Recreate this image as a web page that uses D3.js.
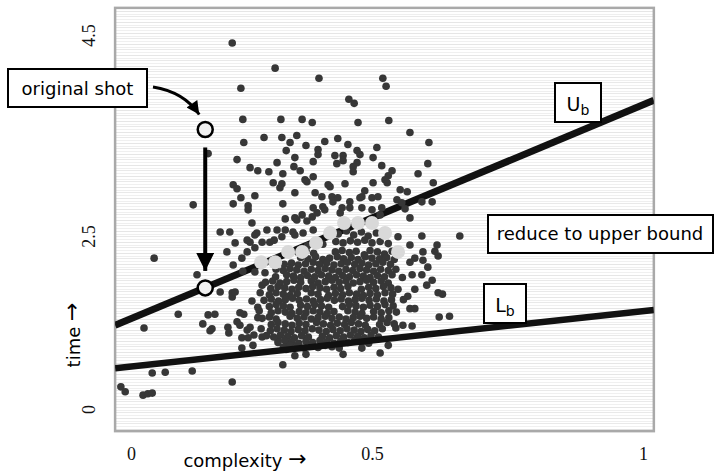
<!DOCTYPE html>
<html>
<head>
<meta charset="utf-8">
<script src="https://cdn.jsdelivr.net/npm/d3@7"></script>
<style>
body { margin: 0; background: #fff; }
svg { display: block; }
</style>
</head>
<body>
<script>
// tick labels
var xTicks = [0, 0.5, 1];
var yTicks = [0, 2.5, 4.5];

// plotted area in data units (a bit past the ticks)
var frameX = [-0.033, 1.02];
var frameY = [-0.32, 4.77];

// scattered shots around the main cloud [complexity, time]
var outerShots = [
    [0.210,4.42],[0.299,4.17],[0.390,4.07],[0.228,3.97],[0.520,4.07],[0.526,3.99],[0.452,3.86],[0.463,3.82],
    [0.232,3.66],[0.311,3.66],[0.355,3.66],[0.376,3.63],[0.471,3.63],[0.531,3.65],[0.570,3.53],[0.276,3.48],
    [0.313,3.48],[0.344,3.50],[0.234,3.43],[0.330,3.43],[0.363,3.40],[0.402,3.44],[0.429,3.47],[0.450,3.41],
    [0.509,3.38],[0.605,3.43],[0.322,3.35],[0.388,3.36],[0.388,3.31],[0.469,3.35],[0.475,3.31],[0.423,3.30],
    [0.440,3.30],[0.440,3.25],[0.340,3.28],[0.378,3.24],[0.220,3.26],[0.303,3.23],[0.502,3.28],[0.427,3.22],
    [0.469,3.23],[0.603,3.22],[0.518,3.20],[0.160,3.32],[0.247,3.18],[0.263,3.15],[0.286,3.14],[0.315,3.12],
    [0.338,3.19],[0.351,3.15],[0.378,3.09],[0.365,3.04],[0.461,3.19],[0.461,3.14],[0.537,3.15],[0.530,3.10],
    [0.524,3.06],[0.585,3.12],[0.613,3.03],[0.502,3.03],[0.295,3.03],[0.313,3.02],[0.309,2.98],[0.212,3.01],
    [0.220,2.97],[0.340,2.93],[0.382,2.93],[0.396,2.89],[0.413,2.99],[0.444,3.02],[0.485,2.95],[0.552,2.96],
    [0.565,2.94],[0.479,2.89],[0.500,2.88],[0.511,2.89],[0.546,2.86],[0.592,2.84],[0.611,2.84],[0.561,2.77],
    [0.129,2.81],[0.212,2.82],[0.228,2.88],[0.257,2.90],[0.243,2.80],[0.243,2.76],[0.315,2.82],[0.378,2.78],
    [0.398,2.79],[0.419,2.84],[0.454,2.84],[0.320,2.67],[0.344,2.66],[0.365,2.65],[0.376,2.69],[0.386,2.73],
    [0.434,2.73],[0.454,2.78],[0.185,2.54],[0.205,2.54],[0.251,2.63],[0.261,2.53],[0.282,2.56],[0.303,2.56],
    [0.320,2.56],[0.336,2.54],[0.357,2.53],[0.378,2.56],[0.570,2.68],[0.409,3.01],[0.417,2.89],[0.429,2.88],
    [0.475,2.88],[0.528,3.03],[0.500,2.76],[0.518,2.78],[0.515,2.71],[0.555,2.83],[0.479,2.78],[0.438,2.78],
    [0.402,2.76],[0.355,2.71],[0.340,2.68],[0.340,2.51],[0.361,3.06],
    [0.548,2.49],[0.592,2.50],[0.620,2.37],[0.662,2.50],[0.570,2.37],[0.594,2.27],[0.579,2.18],[0.622,2.21],
    [0.603,2.05],[0.570,2.12],[0.592,1.94],[0.611,1.86],[0.574,1.94],[0.601,1.79],[0.622,1.68],[0.630,1.66],
    [0.566,1.63],[0.579,1.73],[0.570,1.45],[0.579,1.45],[0.624,1.33],[0.643,1.34],[0.557,1.21],[0.574,1.20],
    [0.544,1.17],[0.515,0.81],[0.530,0.92],[0.479,0.88],[0.440,0.79],[0.363,0.79],[0.340,0.77],[0.315,0.64],
    [0.616,2.28],[0.594,2.15],
    [0.048,2.18],[0.137,1.94],[0.199,2.27],[0.230,2.18],[0.212,2.08],[0.257,2.33],[0.241,2.27],[0.232,1.99],
    [0.257,1.98],[0.278,1.97],[0.272,1.79],[0.185,1.69],[0.210,1.68],[0.247,2.41],[0.272,2.41],[0.288,2.41],
    [0.297,2.44],[0.313,2.49],[0.257,2.51],[0.098,1.37],[0.027,1.17],[0.149,1.23],[0.160,1.36],[0.174,1.37],
    [0.168,1.16],[0.164,1.13],[0.201,1.18],[0.203,1.10],[0.210,1.62],[0.251,1.56],[0.263,1.47],[0.234,1.37],
    [0.263,1.32],[0.220,1.26],[0.226,1.21],[0.241,1.14],[0.230,1.03],[0.230,0.88],[0.253,0.92],[0.247,1.18],
    [0.255,1.07],[0.272,1.04],[0.305,1.00],[0.326,0.95],[0.044,0.52],[0.071,0.53],[0.127,0.55],[0.210,0.39],
    [-0.021,0.32],[-0.012,0.25],[0.025,0.20],[0.035,0.22],[0.044,0.23],[0.216,1.69],[0.226,1.39],[0.241,2.44],
    [0.216,2.40],[0.243,1.03]
];

// the dense cloud of shots
var coreShots = [
    [0.430,2.52],[0.447,2.55],[0.462,2.51],[0.478,2.54],[0.492,2.50],[0.508,2.53],
    [0.425,2.42],[0.440,2.40],[0.455,2.43],[0.470,2.41],[0.485,2.44],[0.500,2.40],[0.515,2.42],[0.530,2.39],[0.398,2.38],[0.366,2.36],
    [0.332,2.28],[0.347,2.26],[0.363,2.29],[0.379,2.25],[0.424,2.27],[0.438,2.29],[0.453,2.26],[0.467,2.28],[0.484,2.23],[0.496,2.29],[0.510,2.27],[0.523,2.24],[0.537,2.28],
    [0.352,2.19],[0.367,2.17],[0.383,2.20],[0.398,2.16],[0.412,2.18],[0.428,2.20],[0.441,2.17],[0.457,2.19],[0.471,2.16],[0.486,2.20],[0.500,2.18],[0.514,2.17],[0.527,2.19],[0.541,2.16],
    [0.318,2.09],[0.333,2.11],[0.347,2.08],[0.362,2.10],[0.378,2.12],[0.391,2.09],[0.406,2.11],[0.421,2.08],[0.436,2.10],[0.449,2.12],[0.464,2.09],[0.479,2.11],[0.493,2.08],[0.507,2.10],[0.520,2.12],[0.534,2.09],
    [0.301,2.02],[0.316,2.00],[0.330,2.03],[0.344,2.01],[0.359,1.99],[0.374,2.02],[0.388,2.00],[0.403,2.03],[0.417,2.01],[0.431,1.99],[0.446,2.02],[0.460,2.00],[0.475,2.03],[0.489,2.01],[0.503,1.99],[0.516,2.02],[0.530,2.00],[0.544,2.02],
    [0.300,1.91],[0.323,1.94],[0.337,1.92],[0.352,1.90],[0.366,1.93],[0.381,1.91],[0.395,1.94],[0.410,1.92],[0.424,1.90],[0.439,1.93],[0.453,1.91],[0.468,1.94],[0.482,1.92],[0.496,1.90],[0.510,1.93],[0.523,1.91],[0.537,1.94],[0.556,1.90],
    [0.279,1.83],[0.294,1.85],[0.309,1.82],[0.323,1.84],[0.338,1.86],[0.352,1.83],[0.374,1.85],[0.388,1.82],[0.403,1.84],[0.417,1.86],[0.432,1.83],[0.446,1.85],[0.461,1.82],[0.475,1.84],[0.489,1.86],[0.503,1.83],[0.517,1.85],[0.530,1.82],
    [0.290,1.74],[0.305,1.77],[0.319,1.75],[0.334,1.73],[0.348,1.76],[0.363,1.74],[0.377,1.77],[0.392,1.75],[0.406,1.73],[0.421,1.76],[0.435,1.74],[0.450,1.77],[0.478,1.73],[0.493,1.76],[0.507,1.74],[0.521,1.77],[0.535,1.75],[0.548,1.73],
    [0.268,1.68],[0.287,1.65],[0.301,1.68],[0.316,1.66],[0.330,1.64],[0.345,1.67],[0.374,1.68],[0.388,1.66],[0.410,1.64],[0.424,1.67],[0.439,1.65],[0.453,1.68],[0.468,1.66],[0.482,1.64],[0.496,1.67],[0.510,1.65],[0.524,1.68],[0.538,1.66],
    [0.276,1.57],[0.291,1.59],[0.306,1.56],[0.320,1.58],[0.335,1.60],[0.349,1.57],[0.364,1.59],[0.378,1.56],[0.393,1.58],[0.407,1.60],[0.422,1.57],[0.436,1.59],[0.451,1.56],[0.465,1.58],[0.479,1.60],[0.494,1.57],[0.508,1.59],[0.522,1.56],[0.536,1.58],[0.558,1.58],
    [0.287,1.48],[0.301,1.51],[0.316,1.49],[0.330,1.47],[0.352,1.50],[0.366,1.48],[0.381,1.51],[0.395,1.49],[0.410,1.47],[0.439,1.48],[0.453,1.51],[0.467,1.49],[0.482,1.47],[0.496,1.50],[0.510,1.48],[0.524,1.51],[0.539,1.49],
    [0.266,1.42],[0.291,1.39],[0.305,1.42],[0.320,1.40],[0.334,1.38],[0.349,1.41],[0.363,1.39],[0.378,1.42],[0.392,1.40],[0.407,1.38],[0.421,1.41],[0.450,1.42],[0.465,1.40],[0.479,1.38],[0.503,1.41],[0.517,1.39],[0.531,1.42],[0.545,1.40],
    [0.272,1.31],[0.287,1.33],[0.301,1.30],[0.330,1.34],[0.345,1.31],[0.359,1.33],[0.374,1.30],[0.388,1.32],[0.403,1.34],[0.417,1.31],[0.432,1.33],[0.446,1.30],[0.461,1.32],[0.475,1.34],[0.489,1.31],[0.503,1.33],[0.517,1.30],[0.531,1.32],
    [0.291,1.22],[0.305,1.25],[0.320,1.23],[0.334,1.21],[0.349,1.24],[0.363,1.22],[0.385,1.25],[0.399,1.23],[0.414,1.21],[0.428,1.24],[0.443,1.22],[0.457,1.25],[0.472,1.23],[0.486,1.21],[0.514,1.22],[0.528,1.25],[0.541,1.23],
    [0.270,1.16],[0.289,1.13],[0.303,1.16],[0.318,1.14],[0.332,1.12],[0.347,1.15],[0.361,1.13],[0.376,1.16],[0.390,1.14],[0.405,1.12],[0.419,1.15],[0.434,1.13],[0.448,1.16],[0.463,1.14],[0.477,1.12],[0.491,1.15],[0.505,1.13],[0.519,1.16],
    [0.281,1.06],[0.296,1.04],[0.310,1.07],[0.325,1.05],[0.339,1.03],[0.354,1.06],[0.368,1.04],[0.397,1.05],[0.412,1.03],[0.426,1.06],[0.441,1.04],[0.455,1.07],[0.470,1.05],[0.484,1.03],[0.498,1.06],[0.512,1.04],
    [0.305,0.96],[0.319,0.99],[0.334,0.97],[0.348,0.95],[0.363,0.98],[0.377,0.96],[0.392,0.99],[0.406,0.97],[0.421,0.95],[0.435,0.98],[0.450,0.96],[0.464,0.99],[0.479,0.97],[0.493,0.95],
    [0.316,0.89],[0.322,0.86],[0.330,0.92],[0.345,0.90],[0.359,0.88],[0.374,0.91],[0.388,0.89],[0.403,0.92],[0.417,0.90],[0.432,0.88]
];

// shots already reduced onto the upper bound
var reducedShots = [
    [0.270,2.12],[0.299,2.12],[0.326,2.27],[0.355,2.27],[0.384,2.40],[0.413,2.53],
    [0.442,2.63],[0.471,2.63],[0.500,2.63],[0.524,2.53],[0.548,2.27]
];

// bounds, as end points across the frame
var upperBound = [[-0.033, 1.21], [1.02, 3.85]];
var lowerBound = [[-0.033, 0.59], [1.02, 1.43]];

// the highlighted shot, before and after
var originalShot = [0.154, 3.56];
var reducedShot = [0.154, 1.75];

var W = 715, H = 474;
var labelFont = "DejaVu Sans, Verdana, sans-serif";

var svg = d3.select("body").append("svg")
    .attr("width", W)
    .attr("height", H);

// tick labels are not evenly spaced in the picture, so the scales bend at the middle tick
var x = d3.scaleLinear().domain([0, 0.5, 1]).range([131, 372, 643]);
var y = d3.scaleLinear().domain([0, 2.5, 4.5]).range([409, 236, 35]);

var defs = svg.append("defs");

var pat = defs.append("pattern")
    .attr("id", "stripes")
    .attr("patternUnits", "userSpaceOnUse")
    .attr("width", 10)
    .attr("height", 11);
pat.append("rect").attr("width", 10).attr("height", 11).attr("fill", "#fff");
[[0.5, "#e6e6e6"], [3.5, "#efefef"], [5.5, "#e9e9e9"], [8.5, "#f0f0f0"]].forEach(function (s) {
    pat.append("rect").attr("x", 0).attr("y", s[0] - 0.5).attr("width", 10).attr("height", 1).attr("fill", s[1]);
});

function arrowHead(id, w, h) {
    defs.append("marker")
        .attr("id", id)
        .attr("viewBox", "0 0 10 10")
        .attr("refX", 10)
        .attr("refY", 5)
        .attr("markerUnits", "userSpaceOnUse")
        .attr("markerWidth", w)
        .attr("markerHeight", h)
        .attr("orient", "auto")
        .append("path")
        .attr("d", "M0,0 L10,5 L0,10 Z")
        .attr("fill", "#000");
}
arrowHead("headCurve", 15, 13);
arrowHead("headDown", 18, 18);

var fx0 = x(frameX[0]), fx1 = x(frameX[1]);
var fy0 = y(frameY[1]), fy1 = y(frameY[0]);

defs.append("clipPath").attr("id", "frameClip")
    .append("rect")
    .attr("x", fx0).attr("y", fy0)
    .attr("width", fx1 - fx0).attr("height", fy1 - fy0);

// frame with striped background
svg.append("rect")
    .attr("x", fx0).attr("y", fy0)
    .attr("width", fx1 - fx0).attr("height", fy1 - fy0)
    .attr("fill", "url(#stripes)")
    .attr("stroke", "#a9a9a9")
    .attr("stroke-width", 2.5);

var line = d3.line()
    .x(function (d) { return x(d[0]); })
    .y(function (d) { return y(d[1]); });

var plot = svg.append("g").attr("clip-path", "url(#frameClip)");

// upper bound sits under the cloud
plot.append("path")
    .attr("d", line(upperBound))
    .attr("stroke", "#111")
    .attr("stroke-width", 7)
    .attr("fill", "none");

plot.selectAll("circle.shot")
    .data(outerShots.concat(coreShots))
    .enter().append("circle")
    .attr("class", "shot")
    .attr("cx", function (d) { return x(d[0]); })
    .attr("cy", function (d) { return y(d[1]); })
    .attr("r", 3.8)
    .attr("fill", "#373737");

plot.selectAll("circle.reduced")
    .data(reducedShots)
    .enter().append("circle")
    .attr("class", "reduced")
    .attr("cx", function (d) { return x(d[0]); })
    .attr("cy", function (d) { return y(d[1]); })
    .attr("r", 7)
    .attr("fill", "#d9d9d9");

plot.append("path")
    .attr("d", line(lowerBound))
    .attr("stroke", "#111")
    .attr("stroke-width", 6.5)
    .attr("fill", "none");

// arrow from original shot down to the bound
var ox = x(originalShot[0]), oy = y(originalShot[1]);
var ry = y(reducedShot[1]);
svg.append("path")
    .attr("d", "M" + ox + "," + (oy + 18) + " L" + ox + "," + (ry - 17))
    .attr("stroke", "#000")
    .attr("stroke-width", 4)
    .attr("marker-end", "url(#headDown)");

// curved arrow from the label
svg.append("path")
    .attr("d", "M153,87 C172,90 188,98 " + (ox - 6) + "," + (oy - 15))
    .attr("stroke", "#000")
    .attr("stroke-width", 3)
    .attr("fill", "none")
    .attr("marker-end", "url(#headCurve)");

svg.selectAll("circle.mark")
    .data([originalShot, reducedShot])
    .enter().append("circle")
    .attr("class", "mark")
    .attr("cx", function (d) { return x(d[0]); })
    .attr("cy", function (d) { return y(d[1]); })
    .attr("r", 7.5)
    .attr("fill", "#f1f1f1")
    .attr("stroke", "#000")
    .attr("stroke-width", 2.5);

// label boxes
function box(x0, y0, w, h) {
    svg.append("rect")
        .attr("x", x0).attr("y", y0)
        .attr("width", w).attr("height", h)
        .attr("fill", "#fff")
        .attr("stroke", "#000")
        .attr("stroke-width", 2);
}

box(8, 69, 139, 38);
svg.append("text")
    .attr("x", 77.5).attr("y", 95)
    .attr("text-anchor", "middle")
    .attr("font-family", labelFont)
    .attr("font-size", 18)
    .attr("fill", "#000")
    .text("original shot");

box(488, 215, 225, 38);
svg.append("text")
    .attr("x", 600).attr("y", 240)
    .attr("text-anchor", "middle")
    .attr("font-family", labelFont)
    .attr("font-size", 18)
    .attr("fill", "#000")
    .text("reduce to upper bound");

function boundLabel(x0, y0, w, h, letter) {
    box(x0, y0, w, h);
    var t = svg.append("text")
        .attr("x", x0 + w / 2).attr("y", y0 + 28)
        .attr("text-anchor", "middle")
        .attr("font-family", labelFont)
        .attr("font-size", 19)
        .attr("fill", "#000");
    t.append("tspan").text(letter);
    t.append("tspan").attr("font-size", 14).attr("dy", 4).text("b");
}
boundLabel(555, 83, 46, 39, "U");
boundLabel(484, 284, 42, 39, "L");

// axes
var xAxis = svg.append("g")
    .attr("transform", "translate(0,447)")
    .call(d3.axisBottom(x).tickValues(xTicks).tickSize(0).tickPadding(0).tickFormat(d3.format("")));
xAxis.select(".domain").remove();
xAxis.selectAll("text")
    .attr("font-family", "Liberation Serif, Times New Roman, serif")
    .attr("font-size", 18)
    .attr("fill", "#111");

var yAxis = svg.append("g")
    .attr("transform", "translate(95,0)")
    .call(d3.axisLeft(y).tickValues(yTicks).tickSize(0).tickFormat(d3.format("")));
yAxis.select(".domain").remove();
yAxis.selectAll("text")
    .attr("x", 0)
    .attr("dy", null)
    .attr("text-anchor", "middle")
    .attr("transform", "rotate(-90)")
    .attr("font-family", "Liberation Serif, Times New Roman, serif")
    .attr("font-size", 18)
    .attr("fill", "#111");

var timeLabel = svg.append("text")
    .attr("transform", "translate(80,335) rotate(-90)")
    .attr("text-anchor", "middle")
    .attr("font-family", labelFont)
    .attr("font-size", 18)
    .attr("fill", "#000");
timeLabel.append("tspan").text("time ");
timeLabel.append("tspan").attr("font-size", 22).attr("dy", -1).text("\u2192");

var cxLabel = svg.append("text")
    .attr("x", 245).attr("y", 467)
    .attr("text-anchor", "middle")
    .attr("font-family", labelFont)
    .attr("font-size", 18)
    .attr("fill", "#000");
cxLabel.append("tspan").text("complexity ");
cxLabel.append("tspan").attr("font-size", 22).attr("dy", -1).text("\u2192");
</script>
</body>
</html>
